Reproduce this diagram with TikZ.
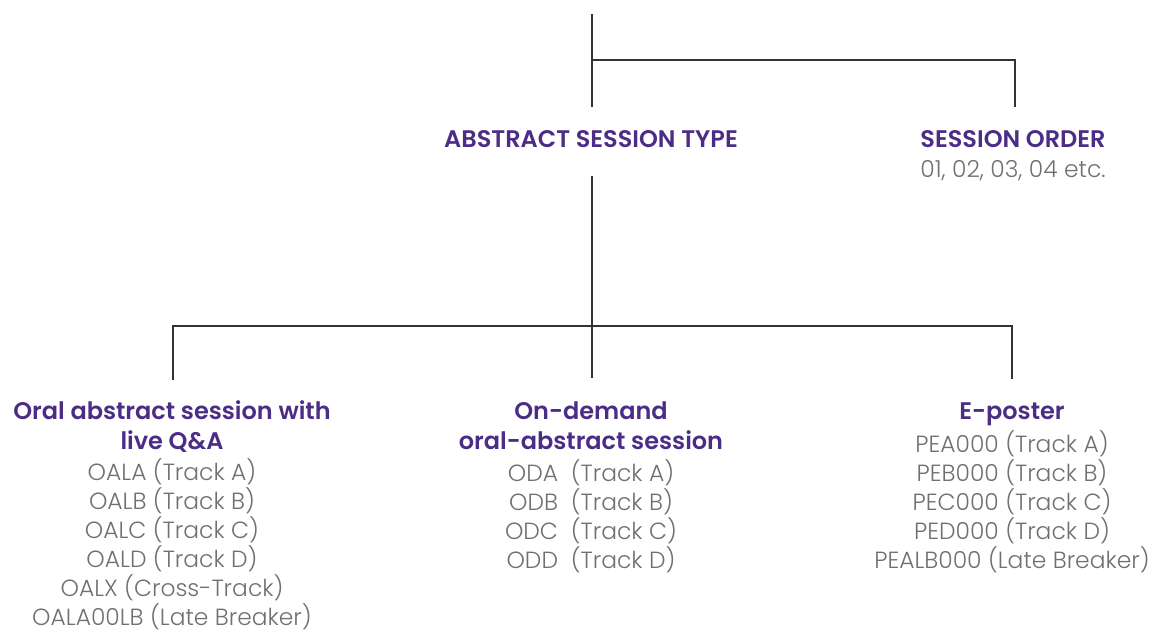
\documentclass[tikz,border=0pt]{standalone}
\usepackage{fontspec}
\setmainfont{Poppins}
\newfontfamily\headfont{Poppins SemiBold}
\newfontfamily\lightfont{Poppins Light}
\definecolor{headpurple}{HTML}{4B2D86}
\definecolor{listgray}{HTML}{707070}
\definecolor{linegray}{HTML}{333333}
\begin{document}
\begin{tikzpicture}[x=1pt,y=-1pt,
  heading/.style={text=headpurple,font=\fontsize{24}{30}\headfont,align=center,inner sep=0pt,anchor=base},
  items/.style={text=listgray,font=\fontsize{23.4}{29}\lightfont,align=center,inner sep=0pt,anchor=base},
  link/.style={draw=linegray,line width=2pt}]
\useasboundingbox (0,0) rectangle (1154,630);

% top level (multi-line nodes are placed by the baseline of their last line)
\node[heading] (type) at (591,147) {ABSTRACT SESSION TYPE};
\node[heading] (order) at (1013,147) {SESSION ORDER};
\node[items] (orderlist) at (1013,177) {01, 02, 03, 04 etc.};

% session types
\node[heading] (oral) at (172,449) {Oral abstract session with\\live Q\&A};
\node[items] (orallist) at (172,625) {OALA (Track A)\\OALB (Track B)\\OALC (Track C)\\OALD (Track D)\\OALX (Cross-Track)\\OALA00LB (Late Breaker)};
\node[heading] (demand) at (591,449) {On-demand\\oral-abstract session};
\node[items] (demandlist) at (591,568) {ODA\ \ (Track A)\\ODB\ \ (Track B)\\ODC\ \ (Track C)\\ODD\ \ (Track D)};
\node[heading] (poster) at (1012,419) {E-poster};
\node[items] (posterlist) at (1012,568) {PEA000 (Track A)\\PEB000 (Track B)\\PEC000 (Track C)\\PED000 (Track D)\\PEALB000 (Late Breaker)};

% connector anchors
\coordinate (root) at (592,14);
\coordinate (split) at (592,60);
\coordinate (typetop) at (592,107);
\coordinate (ordertop) at (1015,107);
\coordinate (typebot) at (592,176);
\coordinate (hub) at (592,326);
\coordinate (oraltop) at (173,380);
\coordinate (demandtop) at (592,378);
\coordinate (postertop) at (1012,379);

% connectors
\draw[link] (root) -- (typetop);
\draw[link] (split) -| (ordertop);
\draw[link] (typebot) -- (demandtop);
\draw[link] (hub) -| (oraltop);
\draw[link] (hub) -| (postertop);
\end{tikzpicture}
\end{document}
